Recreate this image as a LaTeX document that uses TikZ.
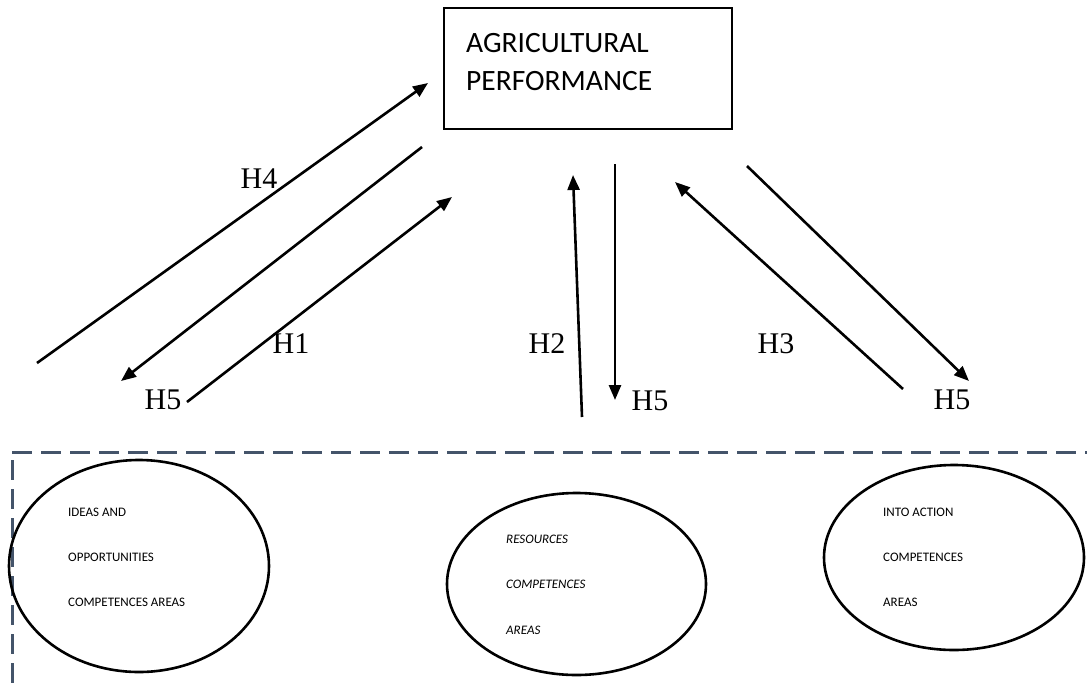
\documentclass[tikz,border=0pt]{standalone}
\usepackage{fontspec}
\setmainfont{Liberation Serif}
\newfontfamily\carlito{Carlito}
\usetikzlibrary{arrows.meta,shapes.geometric}
\definecolor{slate}{HTML}{44546A}
\begin{document}
\begin{tikzpicture}[x=1pt,y=-1pt,
  hyparrow/.style={line width=2.6pt,-{Triangle[length=15pt,width=12pt]}},
  hlabel/.style={font=\fontsize{30}{36}\selectfont, anchor=base, inner sep=0pt},
  oval/.style={draw, ellipse, line width=2.6pt, inner sep=0pt},
  comptext/.style={font=\carlito\fontsize{13}{15}\selectfont, anchor=base west, inner sep=0pt},
  boxtext/.style={font=\carlito\fontsize{29.5}{35}\selectfont, anchor=base west, inner sep=0pt},
  frame/.style={draw=slate, line width=3pt, dash pattern=on 20pt off 9pt}
]
\useasboundingbox (0,0) rectangle (1087,689);

% dashed frame
\draw[frame] (12,452) -- (1095,452);
\draw[frame] (12,460) -- (12,700);

% target box
\node[draw, line width=2.6pt, minimum width=288pt, minimum height=121pt, inner sep=0pt] (perf) at (588,68.5) {};
\node[boxtext] (perf1) at (466,52) {AGRICULTURAL};
\node[boxtext] (perf2) at (466,90) {PERFORMANCE};

% ellipses
\node[oval, minimum width=260pt, minimum height=212pt] (ideas) at (139,566) {};
\node[comptext] (ideas1) at (68,516) {IDEAS AND};
\node[comptext] (ideas2) at (68,561) {OPPORTUNITIES};
\node[comptext] (ideas3) at (68,606) {COMPETENCES AREAS};

\node[oval, minimum width=259pt, minimum height=182pt] (res) at (576.5,584) {};
\node[comptext, font=\carlito\itshape\fontsize{13}{15}\selectfont] (res1) at (506,543) {RESOURCES};
\node[comptext, font=\carlito\itshape\fontsize{13}{15}\selectfont] (res2) at (506,588) {COMPETENCES};
\node[comptext, font=\carlito\itshape\fontsize{13}{15}\selectfont] (res3) at (506,634) {AREAS};

\node[oval, minimum width=260pt, minimum height=185pt] (act) at (954,557.5) {};
\node[comptext] (act1) at (883,516) {INTO ACTION};
\node[comptext] (act2) at (883,561) {COMPETENCES};
\node[comptext] (act3) at (883,606) {AREAS};

% connector end points
\coordinate (h4s) at (37,363);   \coordinate (h4e) at (428,83);
\coordinate (h5as) at (422,147); \coordinate (h5ae) at (121,381);
\coordinate (h1s) at (187,402);  \coordinate (h1e) at (452,197);
\coordinate (h2s) at (582,417);  \coordinate (h2e) at (573,175);
\coordinate (h5bs) at (615,164); \coordinate (h5be) at (615,400);
\coordinate (h3s) at (903,389);  \coordinate (h3e) at (675,182);
\coordinate (h5cs) at (747,166); \coordinate (h5ce) at (969,381);

\draw[hyparrow] (h4s) -- (h4e);
\draw[hyparrow] (h5as) -- (h5ae);
\draw[hyparrow] (h1s) -- (h1e);
\draw[hyparrow] (h2s) -- (h2e);
\draw[hyparrow] (h5bs) -- (h5be);
\draw[hyparrow] (h3s) -- (h3e);
\draw[hyparrow] (h5cs) -- (h5ce);

% labels
\node[hlabel] (lh4) at (259,188) {H4};
\node[hlabel] (lh1) at (291,353) {H1};
\node[hlabel] (lh5a) at (163,409) {H5};
\node[hlabel] (lh2) at (547,353) {H2};
\node[hlabel] (lh5b) at (650,410) {H5};
\node[hlabel] (lh3) at (776,353) {H3};
\node[hlabel] (lh5c) at (952,409) {H5};
\end{tikzpicture}
\end{document}
